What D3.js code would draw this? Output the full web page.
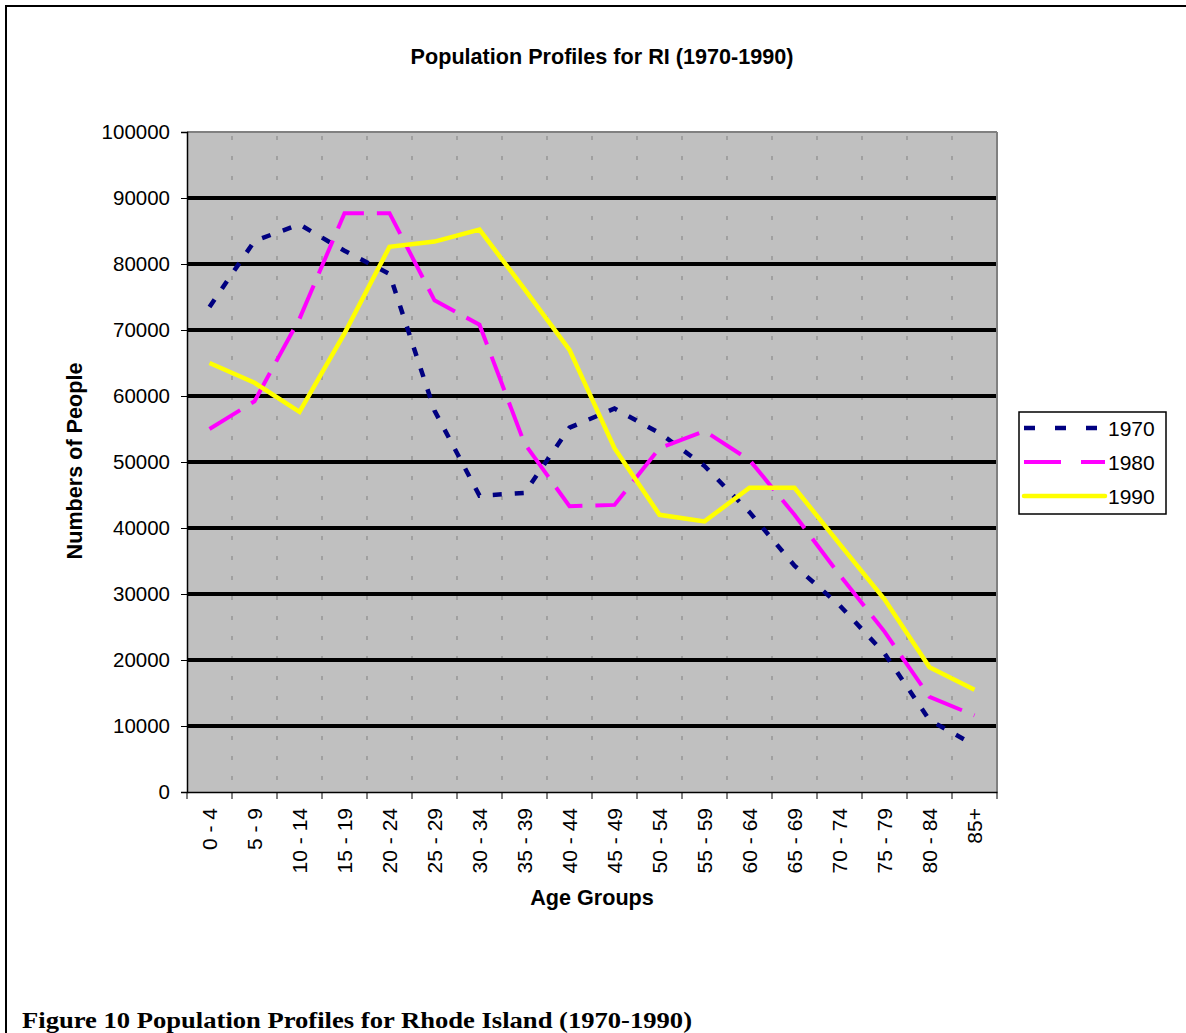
<!DOCTYPE html>
<html>
<head>
<meta charset="utf-8">
<script src="https://cdn.jsdelivr.net/npm/d3@7"></script>
<style>
  html, body { margin: 0; padding: 0; background: #fff; }
  svg { display: block; }
  text { font-family: "Liberation Sans", Arial, sans-serif; fill: #000; }
</style>
</head>
<body>
<svg id="chart" width="1186" height="1033"></svg>
<script>
const categories = ["0 - 4", "5 - 9", "10 - 14", "15 - 19", "20 - 24", "25 - 29", "30 - 34", "35 - 39", "40 - 44",
  "45 - 49", "50 - 54", "55 - 59", "60 - 64", "65 - 69", "70 - 74", "75 - 79", "80 - 84", "85+"];
const pop1970 = [73500, 83500, 86000, 82000, 78500, 57800, 44900, 45300, 55200, 58100, 54400, 49400, 42400, 34300, 28300, 21000, 10900, 7100];
const pop1980 = [55000, 59200, 71700, 87700, 87700, 74500, 70800, 52800, 43300, 43500, 52100, 54700, 50300, 42000, 32900, 24300, 14400, 11600];
const pop1990 = [65000, 62000, 57600, 69500, 82600, 83400, 85200, 76200, 67000, 52100, 42000, 41000, 46100, 46100, 37600, 29200, 18900, 15500];
const seriesNames = ["1970", "1980", "1990"];
const yTicks = [0, 10000, 20000, 30000, 40000, 50000, 60000, 70000, 80000, 90000, 100000];

const chartTitle = "Population Profiles for RI (1970-1990)";
const xTitle = "Age Groups";
const yTitle = "Numbers of People";
const caption = "Figure 10 Population Profiles for Rhode Island (1970-1990)";

const svg = d3.select("#chart");
const L = 187, R = 997, T = 132, B = 792;

// outer frame
svg.append("rect").attr("x", 6).attr("y", 6).attr("width", 1200).attr("height", 1100)
  .attr("fill", "none").attr("stroke", "#000").attr("stroke-width", 2);

const x = d3.scaleBand().domain(categories).range([L, R]).padding(0);
const cx = d => x(d) + x.bandwidth() / 2;
const y = d3.scaleLinear().domain([0, 100000]).range([B, T]);

// plot background
svg.append("rect").attr("x", L).attr("y", T).attr("width", R - L).attr("height", B - T)
  .attr("fill", "#C0C0C0");

// vertical dotted gridlines at category boundaries
const gv = svg.append("g");
categories.slice(1).forEach(c => {
  gv.append("line").attr("x1", x(c)).attr("x2", x(c)).attr("y1", T + 4).attr("y2", B)
    .attr("stroke", "#808080").attr("stroke-width", 1).attr("stroke-dasharray", "4,16");
});

// horizontal major gridlines
svg.append("g").selectAll("line").data(yTicks.filter(v => v > 0 && v < 100000)).join("line")
  .attr("x1", L).attr("x2", R).attr("y1", d => y(d)).attr("y2", d => y(d))
  .attr("stroke", "#000").attr("stroke-width", 4);

// plot border top/right
svg.append("line").attr("x1", L).attr("x2", R).attr("y1", T).attr("y2", T).attr("stroke", "#808080").attr("stroke-width", 2);
svg.append("line").attr("x1", R).attr("x2", R).attr("y1", T).attr("y2", B).attr("stroke", "#808080").attr("stroke-width", 2);

// y axis
const yAxis = d3.axisLeft(y).tickValues(yTicks).tickSize(6).tickPadding(11).tickFormat(d3.format("d"));
const gy = svg.append("g").attr("transform", `translate(${L},0)`).call(yAxis);
gy.select(".domain").attr("stroke", "#000").attr("stroke-width", 1.5);
gy.selectAll(".tick line").attr("stroke", "#000");
gy.selectAll(".tick text").attr("font-size", "20.5px").attr("font-family", "Liberation Sans, Arial, sans-serif").attr("fill", "#000");

// x axis
const xAxis = d3.axisBottom(x).tickSize(0).tickFormat(d => d);
const gx = svg.append("g").attr("transform", `translate(0,${B})`).call(xAxis);
gx.select(".domain").attr("stroke", "#000").attr("stroke-width", 1.5);
gx.selectAll(".tick text")
  .attr("font-size", "21px").attr("font-family", "Liberation Sans, Arial, sans-serif").attr("fill", "#000")
  .attr("text-anchor", "end")
  .attr("transform", "rotate(-90)")
  .attr("x", -16).attr("y", 0).attr("dy", "0.35em");
// boundary tick marks
svg.append("g").selectAll("line").data(categories.map(c => x(c)).concat([R])).join("line")
  .attr("x1", d => d).attr("x2", d => d).attr("y1", B).attr("y2", B + 7)
  .attr("stroke", "#000").attr("stroke-width", 1);

// lines
const line = d3.line().x((d, i) => cx(categories[i])).y(d => y(d));
const series = [
  { name: "1970", values: pop1970, color: "#000080", width: 4.5, dash: "9,13", legendDash: "11,20" },
  { name: "1980", values: pop1980, color: "#FF00FF", width: 4, dash: "36,13", legendDash: "37,20" },
  { name: "1990", values: pop1990, color: "#FFFF00", width: 4.5, dash: null, legendDash: null }
];
series.forEach(s => {
  svg.append("path").datum(s.values).attr("d", line)
    .attr("fill", "none").attr("stroke", s.color).attr("stroke-width", s.width)
    .attr("stroke-linejoin", "miter")
    .attr("stroke-dasharray", s.dash);
});

// legend
const lg = svg.append("g");
lg.append("rect").attr("x", 1019).attr("y", 412).attr("width", 147).attr("height", 102)
  .attr("fill", "#fff").attr("stroke", "#000").attr("stroke-width", 1.5);
series.forEach((s, i) => {
  const ly = 428 + i * 34;
  lg.append("line").attr("x1", 1024).attr("x2", 1105).attr("y1", ly).attr("y2", ly)
    .attr("stroke", s.color).attr("stroke-width", s.width)
    .attr("stroke-linecap", s.dash ? "butt" : "round")
    .attr("stroke-dasharray", s.legendDash);
  lg.append("text").attr("x", 1108).attr("y", ly).attr("dy", "0.36em")
    .attr("font-size", "21px").text(s.name);
});

// titles
svg.append("text").attr("x", 602).attr("y", 64).attr("text-anchor", "middle")
  .attr("font-size", "21.6px").attr("font-weight", "bold").text(chartTitle);
svg.append("text").attr("x", 592).attr("y", 905).attr("text-anchor", "middle")
  .attr("font-size", "21.6px").attr("font-weight", "bold").text(xTitle);
svg.append("text").attr("transform", "translate(82,461) rotate(-90)").attr("text-anchor", "middle")
  .attr("font-size", "21.6px").attr("font-weight", "bold").text(yTitle);

// caption
svg.append("text").attr("x", 22).attr("y", 1028)
  .style("font-family", "'Liberation Serif', 'Times New Roman', serif")
  .attr("font-size", "24px").attr("font-weight", "bold")
  .attr("textLength", 670).attr("lengthAdjust", "spacingAndGlyphs")
  .text(caption);
</script>
</body>
</html>
